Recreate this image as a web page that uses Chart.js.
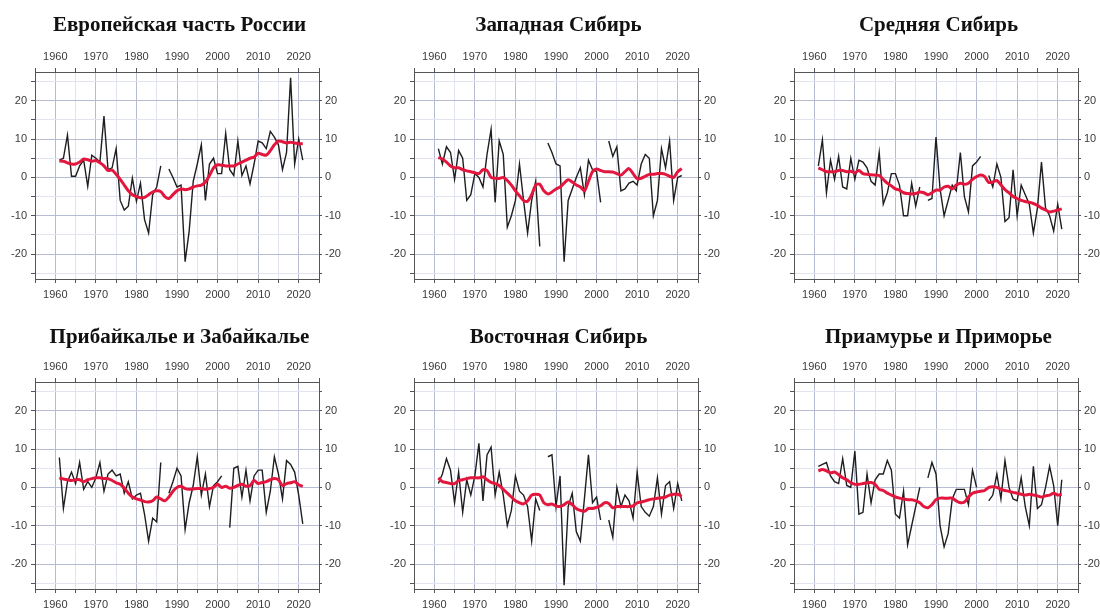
<!DOCTYPE html>
<html lang="ru">
<head>
<meta charset="utf-8">
<title>Регионы России</title>
<script src="https://cdn.jsdelivr.net/npm/chart.js@4.4.1/dist/chart.umd.min.js"></script>
<style>
  html, body { margin: 0; padding: 0; background: #fff; }
  body { width: 1100px; height: 608px; overflow: hidden; position: relative; }
  canvas { position: absolute; }
</style>
</head>
<body>
<script>
// years of observation
const years = [1961, 1962, 1963, 1964, 1965, 1966, 1967, 1968, 1969, 1970,
  1971, 1972, 1973, 1974, 1975, 1976, 1977, 1978, 1979, 1980,
  1981, 1982, 1983, 1984, 1985, 1986, 1987, 1988, 1989, 1990,
  1991, 1992, 1993, 1994, 1995, 1996, 1997, 1998, 1999, 2000,
  2001, 2002, 2003, 2004, 2005, 2006, 2007, 2008, 2009, 2010,
  2011, 2012, 2013, 2014, 2015, 2016, 2017, 2018, 2019, 2020, 2021];

const xTickLabels = [1960, 1970, 1980, 1990, 2000, 2010, 2020];
const xMinorTicks = [1955, 1965, 1975, 1985, 1995, 2005, 2015, 2025];
const yTickLabels = [-20, -10, 0, 10, 20];
const yMinorTicks = [-25, -15, -5, 5, 15, 25];

// Европейская часть России
const evrAnnual = [4.5, 5, 11, 0.3, 0.3, 3, 4.5, -2.3, 5.8, 5,
  4, 16, 2, 2.5, 7.5, -6, -8.5, -7.5, -0.2, -6.2,
  -1.5, -11, -14.5, -4.5, -2.5, 3, null, 2.2, 0, -2.5,
  -2, -22, -14, -1, 3.5, 8.5, -6, 3.5, 5, 1,
  1, 11.5, 2, 0.5, 9.5, 0.5, 3, -1.7, 3.5, 9.5,
  9, 7.5, 12, 10.5, 8.5, 2, 6.5, 26, 3.5, 10, 4.5];
const evrTrend = [4.3, 4.2, 3.8, 3.5, 3.5, 4, 4.8, 4.6, 4.2, 4.4,
  3.8, 3, 1.8, 1.9, 0.8, -0.5, -2, -3.5, -4.5, -5,
  -5.3, -5.2, -4.5, -3.8, -3.5, -3.7, -5, -5.5, -4.5, -3.5,
  -3, -3.2, -3, -2.5, -2.2, -2, -1.2, 0.5, 2.5, 3.3,
  3.2, 3, 3, 3, 3.5, 4, 4.5, 5, 5.3, 6.3,
  6, 5.8, 7, 8.5, 9.5, 9.3, 9, 9.2, 9, 8.8, 8.8];

// Западная Сибирь
const zsibAnnual = [7.5, 3.5, 8, 6.5, -0.5, 7, 5, -6, -4.5, 1,
  0, -2.5, 6, 12.5, -6.5, 9.5, 6, -13, -10, -6,
  3.5, -6, -14.5, -6, -1, -18, null, 9, 6.5, 3.5,
  3, -22, -6, -3, 0, 2.5, -4.5, 4.5, 2, 1.5,
  -6.5, null, 9.5, 5.5, 8, -3.5, -3, -1.5, -1, -2,
  3.5, 6, 5, -10, -6, 7.5, 2.5, 9.5, -6, 0, 0.5];
const zsibTrend = [5.2, 4.8, 4, 3, 2.5, 2.5, 2, 1.7, 1.5, 1.2,
  1, 2, 1.8, 0, -0.2, -0.3, 0, -0.8, -2, -3.5,
  -4.8, -6, -6.2, -4.5, -2, -1.8, -3.5, -4.3, -3.8, -3,
  -2.5, -1.5, -0.6, -1.2, -2, -2.5, -3.5, -1, 1.5, 2.2,
  1.8, 1.5, 1.5, 1.4, 1, 0.6, 1.5, 2.3, 1, -0.3,
  -0.2, 0.3, 0.8, 0.8, 1, 1, 0.8, 0.3, 0, 1.5, 2.3];

// Средняя Сибирь
const ssibAnnual = [3, 9.8, -4, 4.5, -0.5, 5.5, -2.5, -3, 5, -0.5,
  4.5, 4, 2.5, -1, -2, 6.5, -7, -4, 1, 1,
  -2, -10, -10, -1.5, -7.5, -2.5, null, -6, -5.5, 10.5,
  -3, -10, -6, -2, -3.5, 6.5, -5, -9, 3, 4,
  5.5, null, 0.5, -2.5, 3.5, 0, -11.5, -10.5, 2, -10,
  -2, -4.5, -7, -14.5, -8, 4, -8, -10, -14, -7, -13.5];
const ssibTrend = [2.5, 2, 1.5, 1.5, 1.5, 1.8, 1.8, 1.5, 1.6, 1.2,
  1.8, 1, 0.8, 0.7, 0.6, 0.5, -0.5, -1.5, -2.2, -3,
  -3.3, -4, -4.2, -4.3, -4.2, -3.8, -4, -4.5, -4, -3.3,
  -3.3, -2.5, -2.3, -3, -2, -1.5, -1.8, -1.5, -0.5, 0.2,
  0.6, 0.2, -1.3, -1.2, -0.8, -2, -3.2, -4, -5, -5.5,
  -6, -6.3, -6.5, -6.8, -7.3, -8, -8.5, -9, -8.8, -8.5, -8.2];

// Прибайкалье и Забайкалье
const pribAnnual = [7.8, -5.5, 1.5, 4, 1, 6.5, -0.5, 1.5, 0, 2.5,
  6.5, -1, 3.5, 4.5, 3, 3.5, -1.5, 1.5, -3, -2,
  -1.5, -7, -14, -8, -9, 6.5, null, -1.5, 1.5, 5,
  3, -11, -4, 0.5, 8, -2, 3.5, -5, 0.5, 1.5,
  3, null, -10.5, 5, 5.5, -2.5, 4.5, -3.5, 3, 4.5,
  4.5, -6.5, -1, 8, 3.5, -3, 7, 6, 4, -2, -9.5];
const pribTrend = [2.5, 2.2, 2, 1.8, 2, 2, 1.5, 2, 2.3, 2.5,
  2.5, 2.3, 2.3, 1.8, 1.2, 0.8, -0.2, -1.5, -2.5, -3,
  -3.3, -3.7, -3.8, -3.5, -2.5, -3, -3.5, -2.5, -1, 0,
  0.3, -0.3, -0.5, -0.4, -0.3, -0.3, -0.5, -0.3, 0, 0.8,
  0, 0.3, -0.2, 0, 0.5, 0.8, 0.3, 0.5, 1.8, 1,
  1.3, 1.5, 2, 2.3, 2, 0.5, 1, 1.2, 1.5, 0.7, 0.3];

// Восточная Сибирь
const vsibAnnual = [1, 3.5, 7.5, 4.5, -4, 4, -6.5, 2, -2, 3,
  11.5, -3.5, 8.5, 10.5, -2, 4, -2, -10, -6, 3,
  -1, -2, -5, -14, -3, -6, null, 8, 8.5, -5,
  3, -25.5, -5, -1.5, -11.5, -14, -3, 8.5, -4, -2.5,
  -8.5, null, -8.5, -13, 0, -5, -2, -3.5, -8, 4,
  -5, -6.5, -7.5, -5, 2.5, -7, 0.5, 1.5, -5.5, 1, -3.5];
const vsibTrend = [2.5, 1.5, 1.3, 1, 1, 1.8, 2, 2.3, 2.5, 2.5,
  2.5, 2.8, 2, 1.3, 1, 0.5, -0.5, -1.5, -2.5, -3.5,
  -4, -4.3, -3.5, -2, -1.8, -2, -4, -4.5, -4.3, -4.8,
  -5, -4.5, -3.8, -4.5, -5.5, -6, -6.2, -5.5, -5.5, -5.2,
  -4.8, -4, -4.2, -5.3, -5, -5, -5, -5, -4.8, -4,
  -3.8, -3.5, -3.2, -3, -2.8, -2.7, -2.5, -2, -1.8, -1.8, -2.3];

// Приамурье и Приморье
const priamAnnual = [5.5, 6, 6.5, 3, 1.5, 1, 7.5, 0.5, 0, 9.5,
  -7, -6.5, 3.5, -4, 2, 3.5, 3.5, 7, 4.5, -7,
  -8, -1, -15, -10, -5, 0, null, 2.5, 6.5, 3.5,
  -10, -15.5, -12, -3, -0.5, -0.5, -0.5, -4.5, 4.5, 0,
  null, null, -3.5, -2, 3.5, -3, 7, 0, -3, -3.5,
  2.5, -5, -10, 5.5, -5.5, -4.5, 0, 5.5, 0.5, -10, 2];
const priamTrend = [4.3, 4.7, 4.3, 3.8, 4, 3.3, 2.5, 2, 1.2, 0.8,
  0.8, 1, 1.2, 1.3, 0.8, -0.5, -0.8, -1.5, -2, -2.5,
  -2.8, -3, -3.2, -3.2, -3.5, -4, -5, -5.3, -4.5, -3.2,
  -2.8, -2.8, -2.8, -2.8, -3.5, -4, -3.8, -2.5, -1.5, -1.2,
  -1, -0.8, 0, 0.2, 0, -0.5, -0.8, -1, -1.3, -1.5,
  -1.8, -2, -1.8, -2, -2.2, -2.5, -2.2, -2, -1.5, -2, -1.8];

const panels = [
  { title: 'Европейская часть России', annual: evrAnnual, trend: evrTrend, left: 35, top: 72, titleGap: 2 },
  { title: 'Западная Сибирь', annual: zsibAnnual, trend: zsibTrend, left: 414, top: 72, titleGap: 2 },
  { title: 'Средняя Сибирь', annual: ssibAnnual, trend: ssibTrend, left: 794, top: 72, titleGap: 2 },
  { title: 'Прибайкалье и Забайкалье', annual: pribAnnual, trend: pribTrend, left: 35, top: 382, titleGap: 0 },
  { title: 'Восточная Сибирь', annual: vsibAnnual, trend: vsibTrend, left: 414, top: 382, titleGap: 0 },
  { title: 'Приамурье и Приморье', annual: priamAnnual, trend: priamTrend, left: 794, top: 382, titleGap: 0 }
];

const PLOT_W = 284, PLOT_H = 207;
const LEFT_W = 35, RIGHT_W = 40, TOP_H = 32, BOTTOM_H = 30;
const TITLE_LINE = 24, TITLE_PAD_TOP = 6;

const tickFont = { family: "'Liberation Sans', Arial, sans-serif", size: 11 };
const tickColor = '#3a3a3a';
const majorGrid = '#b7bcd4';
const minorGrid = '#e1e4ee';

const xAll = xTickLabels.concat(xMinorTicks).sort((a, b) => a - b);
const yAll = yTickLabels.concat(yMinorTicks).sort((a, b) => a - b);

function axis(isX, position, size, onArea) {
  const labels = isX ? xTickLabels : yTickLabels;
  const all = isX ? xAll : yAll;
  return {
    type: 'linear',
    position: position,
    min: isX ? 1955 : -26.5,
    max: isX ? 2025 : 27.5,
    afterBuildTicks: s => { s.ticks = all.map(v => ({ value: v })); },
    afterFit: s => { if (isX) s.height = size; else s.width = size; },
    ticks: {
      autoSkip: false,
      maxRotation: 0,
      font: tickFont,
      color: tickColor,
      padding: isX ? (position === 'top' ? 4 : 5) : (position === 'left' ? 4 : 3),
      callback: v => labels.includes(v) ? String(v) : ''
    },
    grid: {
      drawOnChartArea: onArea,
      color: ctx => (ctx.tick && labels.includes(ctx.tick.value)) ? majorGrid : minorGrid,
      lineWidth: 1,
      tickColor: '#555',
      tickLength: position === 'right' ? 3 : 4
    },
    border: { color: '#555', width: 1 }
  };
}

panels.forEach(p => {
  const titleH = TITLE_PAD_TOP + TITLE_LINE + p.titleGap;
  const cw = LEFT_W + PLOT_W + RIGHT_W;
  const ch = titleH + TOP_H + PLOT_H + BOTTOM_H;
  const canvas = document.createElement('canvas');
  canvas.width = cw;
  canvas.height = ch;
  canvas.style.width = cw + 'px';
  canvas.style.height = ch + 'px';
  canvas.style.left = (p.left - LEFT_W) + 'px';
  canvas.style.top = (p.top - TOP_H - titleH) + 'px';
  document.body.appendChild(canvas);

  new Chart(canvas.getContext('2d'), {
    type: 'line',
    data: {
      datasets: [{
        label: 'trend',
        data: years.map((y, i) => ({ x: y, y: p.trend[i] })),
        borderColor: '#e3173e',
        borderWidth: 3,
        pointRadius: 0,
        tension: 0.3,
        fill: false
      }, {
        label: 'annual',
        data: years.map((y, i) => ({ x: y, y: p.annual[i] })),
        borderColor: '#1e1e1e',
        borderWidth: 1.4,
        pointRadius: 0,
        tension: 0,
        spanGaps: false,
        fill: false
      }]
    },
    options: {
      responsive: false,
      maintainAspectRatio: false,
      devicePixelRatio: 1,
      animation: false,
      layout: { padding: 0 },
      plugins: {
        legend: { display: false },
        tooltip: { enabled: false },
        title: {
          display: true,
          text: p.title,
          color: '#111',
          font: { family: "'Liberation Serif', 'Times New Roman', serif", size: 21, weight: 'bold', lineHeight: TITLE_LINE + 'px' },
          padding: { top: TITLE_PAD_TOP, bottom: p.titleGap }
        }
      },
      scales: {
        x: axis(true, 'bottom', BOTTOM_H, true),
        x2: axis(true, 'top', TOP_H, false),
        y: axis(false, 'left', LEFT_W, true),
        y2: axis(false, 'right', RIGHT_W, false)
      }
    }
  });
});
</script>
</body>
</html>
